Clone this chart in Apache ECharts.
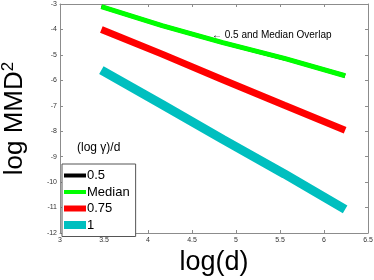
<!DOCTYPE html>
<html><head><meta charset="utf-8">
<script src="https://cdn.jsdelivr.net/npm/echarts@6/dist/echarts.min.js"></script>
<style>html,body{margin:0;padding:0;background:#fff}#c{width:374px;height:280px}</style>
</head><body><div id="c"></div>
<script>
var logD = [3.47, 4.16, 4.85, 5.55, 6.24];
var seriesNames = ['0.5', 'Median', '0.75', '1'];
var half = [-3.1, -3.85, -4.52, -5.14, -5.82];
var median = [-3.1, -3.85, -4.52, -5.14, -5.82];
var q75 = [-4.0, -4.97, -5.98, -6.98, -7.96];
var one = [-5.6, -6.95, -8.32, -9.68, -11.07];
var xTicks = [3, 3.5, 4, 4.5, 5, 5.5, 6, 6.5];
var yTicks = [-12, -11, -10, -9, -8, -7, -6, -5, -4, -3];

function pairs(ys){ return logD.map(function(x,i){ return [x, ys[i]]; }); }
var colors = ['#000000', '#00ff00', '#ff0000', '#00bfbf'];
var widths = [4, 5, 7, 9];
var values = [half, median, q75, one];
var FONT = '"Liberation Sans", Arial, sans-serif';

var chart = echarts.init(document.getElementById('c'), null, {renderer:'canvas'});
var axisCommon = {
  axisLine:{show:true, lineStyle:{color:'#8c8c8c', width:1}},
  axisTick:{show:true, inside:true, length:3, lineStyle:{color:'#8c8c8c'}},
  splitLine:{show:false}
};
chart.setOption({
  animation:false,
  grid:{left:60, right:6, top:4, bottom:47, containLabel:false, outerBoundsMode:'none'},
  xAxis:[
    Object.assign({type:'value', min:3, max:6.5, interval:0.5, position:'bottom',
      axisLabel:{fontSize:7, color:'#333', margin:4, fontFamily:FONT,
        formatter:function(v){return String(v);}},
      name:'log(d)', nameLocation:'middle', nameGap:16,
      nameTextStyle:{fontSize:27, color:'#000', fontFamily:FONT}}, axisCommon),
    Object.assign({type:'value', min:3, max:6.5, interval:0.5, position:'top',
      axisLabel:{show:false}}, axisCommon)
  ],
  yAxis:[
    Object.assign({type:'value', min:-12, max:-3, interval:1, position:'left',
      axisLabel:{fontSize:7, color:'#333', margin:3, fontFamily:FONT},
      name:'log MMD{sup|2}', nameLocation:'middle', nameGap:30, nameRotate:90,
      nameTextStyle:{fontSize:26, color:'#000', fontFamily:FONT,
        rich:{sup:{fontSize:17, fontFamily:FONT, color:'#000', padding:[0,0,13,0]}}}}, axisCommon),
    Object.assign({type:'value', min:-12, max:-3, interval:1, position:'right',
      axisLabel:{show:false}}, axisCommon)
  ],
  legend:{
    orient:'vertical', left:62, top:164,
    width:70,
    padding:[5,6,5,2],
    borderColor:'#555', borderWidth:1, backgroundColor:'#fff',
    itemWidth:22, itemHeight:8, itemGap:3.5,
    textStyle:{fontSize:13, color:'#000', fontFamily:FONT, padding:[0,0,0,-4]},
    data:seriesNames.map(function(n,i){
      var h = [4,4,6,8][i];
      return {name:n, icon:'path://M0,0H22V'+h+'H0Z', itemStyle:{color:colors[i]}};
    })
  },
  graphic:[
    {type:'text', left:77, top:142, style:{text:'(log γ)/d', fontSize:12, fill:'#000', fontFamily:FONT}},
    {type:'text', left:212, top:30, style:{text:'← 0.5 and Median Overlap', fontSize:10, fill:'#000', fontFamily:FONT}}
  ],
  series:seriesNames.map(function(n,i){
    return {name:n, type:'line', data:pairs(values[i]), showSymbol:false, symbol:'none',
      z: i===0 ? 1 : 2,
      lineStyle:{color:colors[i], width:widths[i], cap:'butt'}, itemStyle:{color:colors[i]}};
  })
});
</script></body></html>
